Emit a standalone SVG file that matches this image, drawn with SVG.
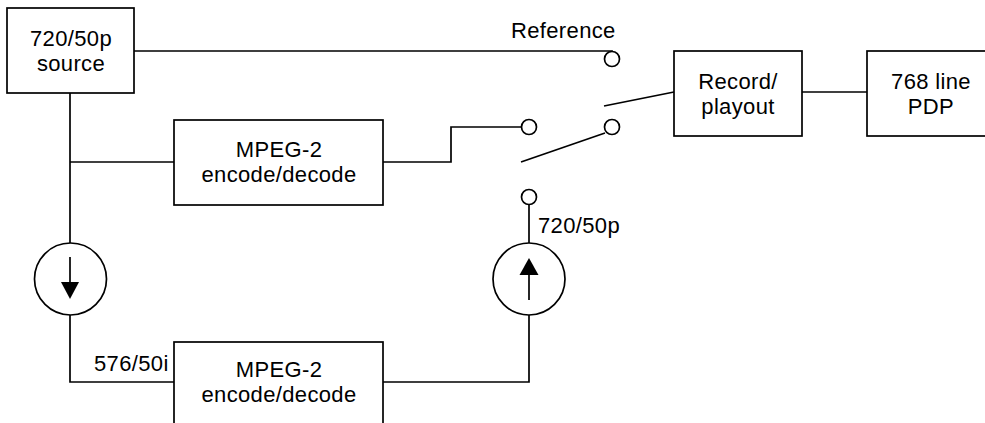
<svg xmlns="http://www.w3.org/2000/svg" width="985" height="423" viewBox="0 0 985 423">
<style>
.box{fill:#fff;stroke:#000;stroke-width:1.7}
.ln{fill:none;stroke:#000;stroke-width:1.7}
.term{fill:#fff;stroke:#000;stroke-width:1.7}
text{font-family:"Liberation Sans",Arial,sans-serif;font-size:22px;letter-spacing:0.35px;fill:#000}
.c{text-anchor:middle}
</style>
<rect width="985" height="423" fill="#fff"/>
<g id="connectors">
<polyline class="ln" points="134,51 612,51 612,52"/>
<line class="ln" x1="70" y1="93" x2="70" y2="243"/>
<line class="ln" x1="70" y1="162" x2="174" y2="162"/>
<polyline class="ln" points="383,162 451,162 451,127 521,127"/>
<line class="ln" x1="521" y1="162" x2="605" y2="133"/>
<line class="ln" x1="604" y1="106" x2="674" y2="92"/>
<line class="ln" x1="802" y1="92" x2="867" y2="92"/>
<polyline class="ln" points="70,315 70,382 174,382"/>
<polyline class="ln" points="383,382 529,382 529,315"/>
<line class="ln" x1="529" y1="243" x2="529" y2="204"/>
</g>
<g id="source"><rect class="box" x="7" y="8" width="127" height="85"/><text class="c" x="71" y="46">720/50p</text><text class="c" x="71" y="71">source</text></g>
<g id="mpeg-top"><rect class="box" x="174" y="120" width="209" height="85"/><text class="c" x="279" y="157">MPEG-2</text><text class="c" x="279" y="182">encode/decode</text></g>
<g id="mpeg-bottom"><rect class="box" x="174" y="342" width="209" height="90"/><text class="c" x="279" y="377">MPEG-2</text><text class="c" x="279" y="402">encode/decode</text></g>
<g id="record"><rect class="box" x="674" y="51" width="128" height="85"/><text class="c" x="738" y="89">Record/</text><text class="c" x="738" y="114">playout</text></g>
<g id="pdp"><rect class="box" x="867" y="51" width="130" height="85"/><text class="c" x="931" y="89">768 line</text><text class="c" x="931" y="114">PDP</text></g>
<g id="terminals">
<circle class="term" cx="612" cy="59" r="7.5"/>
<circle class="term" cx="529" cy="127" r="7.5"/>
<circle class="term" cx="612" cy="127" r="7.5"/>
<circle class="term" cx="529" cy="197" r="7.5"/>
</g>
<g id="downsample"><circle class="term" cx="70.5" cy="279" r="36"/><line class="ln" x1="70" y1="257" x2="70" y2="284"/><polygon points="61,282 79,282 70,299" fill="#000"/></g>
<g id="upsample"><circle class="term" cx="529" cy="279" r="36"/><line class="ln" x1="529" y1="300" x2="529" y2="273"/><polygon points="519.5,275 538.5,275 529,258" fill="#000"/></g>
<g id="labels">
<text x="511" y="38">Reference</text>
<text x="94" y="371">576/50i</text>
<text x="538" y="233">720/50p</text>
</g>
</svg>
